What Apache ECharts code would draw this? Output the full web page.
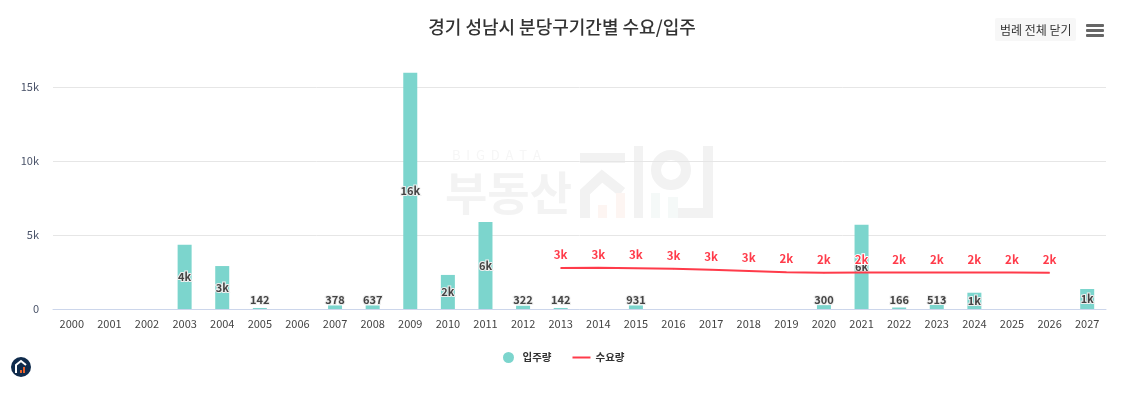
<!DOCTYPE html>
<html>
<head>
<meta charset="utf-8">
<title>경기 성남시 분당구기간별 수요/입주</title>
<style>
html,body{margin:0;padding:0;background:#fff;}
#chart{width:1124px;height:395px;}
</style>
<script src="https://cdn.jsdelivr.net/npm/echarts@6/dist/echarts.min.js"></script>
</head>
<body>
<div id="chart"></div>
<script>
var years = ['2000','2001','2002','2003','2004','2005','2006','2007','2008','2009','2010','2011','2012','2013',
    '2014','2015','2016','2017','2018','2019','2020','2021','2022','2023','2024','2025','2026','2027'];
// 막대 높이 기준으로 읽은 값
var moveIn = [null,null,null,4330,2900,70,null,240,240,15950,2300,5880,220,70,
    null,240,null,null,null,null,260,5680,100,270,1100,null,null,1350];
// 막대 위에 적힌 라벨 (높이와 맞지 않는 것이 있어 따로 둠)
var moveInLabels = ['','','','4k','3k','142','','378','637','16k','2k','6k','322','142',
    '','931','','','','','300','6k','166','513','1k','','','1k'];
var demand = [null,null,null,null,null,null,null,null,null,null,null,null,null,2770,
    2780,2750,2720,2650,2570,2480,2450,2460,2460,2460,2460,2460,2440,null];
var demandLabels = ['','','','','','','','','','','','','','3k',
    '3k','3k','3k','3k','3k','2k','2k','2k','2k','2k','2k','2k','2k',''];
var yTicks = {0:'0',5000:'5k',10000:'10k',15000:'15k'};

var fontName = '"Noto Sans CJK KR","Noto Sans",sans-serif';
var myChart = echarts.init(document.getElementById('chart'));

// 낮은 막대는 라벨을 바닥에 붙이고, 나머지는 막대 가운데
var barData = moveIn.map(function (v) {
    if (v !== null && v < 1000) {
        return {value: v, label: {position: 'insideBottom', distance: 4}};
    }
    return v;
});

var option = {
    animation: false,
    textStyle: {fontFamily: fontName},
    title: {
        text: '경기 성남시 분당구기간별 수요/입주',
        left: 'center',
        top: 13,
        textStyle: {fontSize: 18, fontWeight: 500, color: '#333', fontFamily: fontName}
    },
    legend: {
        bottom: 27,
        left: 498,
        itemGap: 21,
        itemWidth: 18,
        itemHeight: 11,
        textStyle: {fontSize: 10.5, fontWeight: 'bold', color: '#333', fontFamily: fontName},
        data: [
            {name: '입주량', icon: 'circle'},
            {name: '수요량', icon: 'path://M0,0H18V2H0Z'}
        ]
    },
    grid: {left: 53, right: 18, top: 72, bottom: 86},
    xAxis: {
        type: 'category',
        data: years,
        axisTick: {show: false},
        axisLine: {lineStyle: {color: '#ccd6eb', width: 1}},
        axisLabel: {interval: 0, fontSize: 11, color: '#444', margin: 9, fontFamily: fontName}
    },
    yAxis: {
        type: 'value',
        min: 0,
        max: 16000,
        interval: 5000,
        axisLine: {show: false},
        axisTick: {show: false},
        splitLine: {showMaxLine: false, lineStyle: {color: '#e6e6e6', width: 1}},
        axisLabel: {
            showMaxLabel: false,
            fontSize: 11,
            color: '#4a5369',
            margin: 14,
            padding: [0, 0, 2, 0],
            fontFamily: fontName,
            formatter: function (v) {
                return yTicks[v] !== undefined ? yTicks[v] : '';
            }
        }
    },
    series: [{
        name: '입주량',
        type: 'bar',
        data: barData,
        barWidth: 14,
        itemStyle: {color: '#7cd5cd'},
        label: {
            show: true,
            position: 'inside',
            fontSize: 11,
            fontWeight: 'bold',
            color: '#444',
            fontFamily: fontName,
            textBorderColor: '#eee',
            textBorderWidth: 2,
            formatter: function (p) {
                return moveInLabels[p.dataIndex];
            }
        }
    }, {
        name: '수요량',
        type: 'line',
        data: demand,
        symbol: 'circle',
        symbolSize: 1,
        z: 5,
        lineStyle: {color: '#ff3b4a', width: 2},
        itemStyle: {color: '#ff3b4a'},
        label: {
            show: true,
            position: 'top',
            distance: 7,
            fontSize: 11.5,
            fontWeight: 'bold',
            color: '#ff3b4a',
            fontFamily: fontName,
            textBorderColor: '#fff',
            textBorderWidth: 2,
            formatter: function (p) {
                return demandLabels[p.dataIndex];
            }
        }
    }],
    graphic: {
        elements: [
            // 배경 워터마크
            {type: 'text', z: -1, silent: true, x: 452, y: 149, style: {text: 'B  I  G  D  A  T  A', fontSize: 13, fontFamily: fontName, fill: '#f6f6f6'}},
            {type: 'text', z: -1, silent: true, x: 445, y: 170, style: {text: '부동산', fontSize: 46, fontWeight: 'bold', fontFamily: fontName, fill: '#f3f3f3'}},
            {type: 'rect', z: -1, silent: true, shape: {x: 580, y: 153, width: 45, height: 10}, style: {fill: '#f2f2f2'}},
            {type: 'polyline', z: -1, silent: true, shape: {points: [[585, 218], [585, 192], [602, 176], [622, 192]]}, style: {stroke: '#f2f2f2', lineWidth: 10, fill: null}},
            {type: 'rect', z: -1, silent: true, shape: {x: 598, y: 205, width: 9, height: 13}, style: {fill: '#fdf5f2'}},
            {type: 'rect', z: -1, silent: true, shape: {x: 616, y: 193, width: 9, height: 25}, style: {fill: '#fdf5f2'}},
            {type: 'rect', z: -1, silent: true, shape: {x: 634, y: 146, width: 9, height: 72}, style: {fill: '#f2f2f2'}},
            {type: 'circle', z: -1, silent: true, shape: {cx: 671, cy: 170, r: 15}, style: {stroke: '#f2f2f2', lineWidth: 10, fill: null}},
            {type: 'rect', z: -1, silent: true, shape: {x: 651, y: 193, width: 9, height: 25}, style: {fill: '#f5f9f8'}},
            {type: 'rect', z: -1, silent: true, shape: {x: 668, y: 197, width: 10, height: 21}, style: {fill: '#f5f9f8'}},
            {type: 'rect', z: -1, silent: true, shape: {x: 703, y: 146, width: 10, height: 72}, style: {fill: '#f2f2f2'}},
            {type: 'rect', z: -1, silent: true, shape: {x: 678, y: 208, width: 35, height: 10}, style: {fill: '#f2f2f2'}},
            // 범례 버튼
            {type: 'rect', shape: {x: 995, y: 18, width: 81, height: 23, r: 2}, style: {fill: '#f7f7f7'}},
            {type: 'text', x: 1000, y: 24, style: {text: '범례 전체 닫기', fontSize: 12, fontFamily: fontName, fill: '#333'}},
            // 메뉴 아이콘
            {type: 'rect', shape: {x: 1086, y: 24, width: 18, height: 3, r: 1}, style: {fill: '#666'}},
            {type: 'rect', shape: {x: 1086, y: 29, width: 18, height: 3, r: 1}, style: {fill: '#666'}},
            {type: 'rect', shape: {x: 1086, y: 34, width: 18, height: 3, r: 1}, style: {fill: '#666'}},
            // 좌측 하단 로고
            {type: 'circle', shape: {cx: 21, cy: 367, r: 10}, style: {fill: '#0f2b4c'}},
            {type: 'polyline', shape: {points: [[16, 373], [16, 365], [21, 361], [26, 365]]}, style: {stroke: '#fff', lineWidth: 2, fill: null}},
            {type: 'rect', shape: {x: 20, y: 370, width: 2, height: 3}, style: {fill: '#e8622c'}},
            {type: 'rect', shape: {x: 23, y: 367, width: 2, height: 6}, style: {fill: '#e8622c'}}
        ]
    }
};
myChart.setOption(option);
</script>
</body>
</html>
